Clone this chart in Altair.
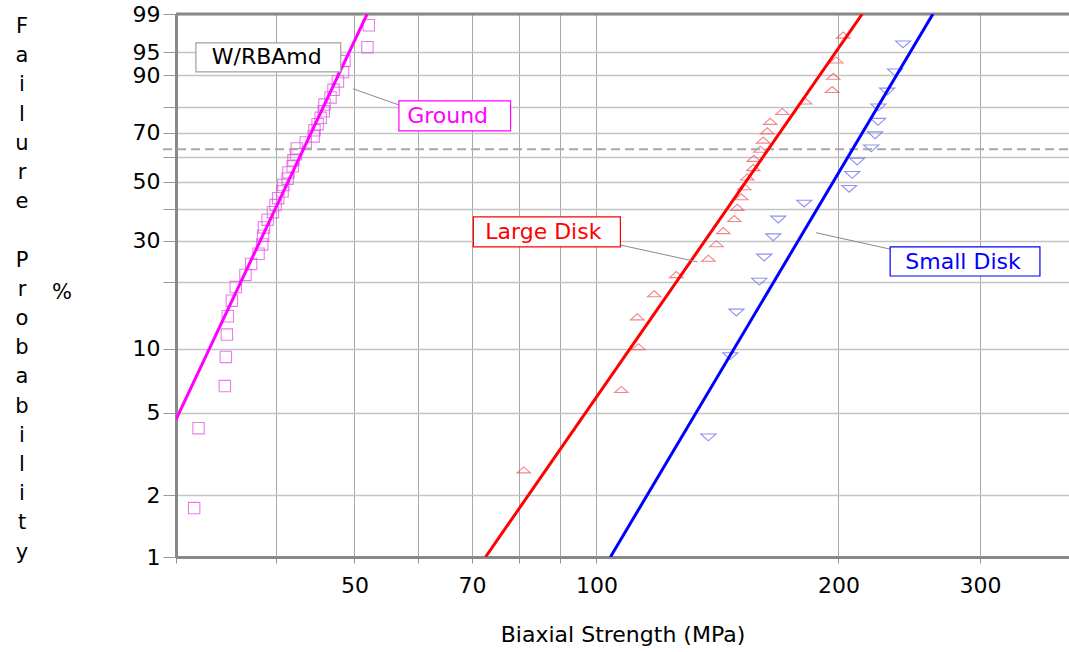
import math
import altair as alt
import pandas as pd

# ---- measured strengths (MPa) and median-rank failure probabilities (%) ----
ground_mpa = [31.6, 32.0, 34.5, 34.6, 34.7, 34.8, 35.2, 35.6, 36.6, 37.2,
              38.0, 38.4, 38.5, 38.6, 39.0, 39.6, 39.9, 40.2, 40.7, 40.8,
              41.3, 41.4, 41.9, 42.0, 42.3, 42.4, 43.5, 44.5, 44.6, 45.0,
              45.4, 45.8, 45.9, 46.7, 47.1, 47.7, 48.4, 48.6, 51.9, 52.1]
ground_pct = [1.73, 4.21, 6.68, 9.16, 11.63, 14.11, 16.58, 19.06, 21.53, 24.01,
              26.49, 28.96, 31.44, 33.91, 36.39, 38.86, 41.34, 43.81, 46.29, 48.76,
              51.24, 53.71, 56.19, 58.66, 61.14, 63.61, 66.09, 68.56, 71.04, 73.51,
              75.99, 78.47, 80.94, 83.42, 85.89, 88.37, 90.84, 93.32, 95.79, 98.27]

large_mpa = [81.2, 107.4, 112.8, 112.4, 118.0, 125.7, 137.8, 141.0, 143.8, 148.4,
             149.7, 151.4, 152.7, 154.0, 156.7, 156.9, 159.9, 161.2, 163.1, 164.5,
             170.3, 181.8, 196.4, 197.0, 198.7, 202.7]
large_pct = [2.65, 6.44, 10.23, 14.02, 17.80, 21.59, 25.38, 29.17, 32.95, 36.74,
             40.53, 44.32, 48.11, 51.89, 55.68, 59.47, 63.26, 67.05, 70.83, 74.62,
             78.41, 82.20, 85.98, 89.77, 93.56, 97.35]

small_mpa = [137.8, 146.7, 149.3, 159.4, 161.7, 165.9, 168.3, 181.3, 206.2, 208.0,
             211.0, 219.6, 222.1, 224.0, 224.2, 229.9, 235.2, 240.6]
small_pct = [3.80, 9.24, 14.67, 20.11, 25.54, 30.98, 36.41, 41.85, 47.28, 52.72,
             58.15, 63.59, 69.02, 74.46, 79.89, 85.33, 90.76, 96.20]

# Weibull fits: modulus m and characteristic strength (MPa)
series_names = ["Ground", "Large Disk", "Small Disk"]
weibull_m = [8.36, 5.68, 6.635]
weibull_eta = [43.2, 163.6, 208.2]

line_colors = ["#ff00ff", "#ff0000", "#0000ff"]
marker_colors = ["#e048e0", "#e8545c", "#6464e6"]
marker_shapes = ["square", "M-1,0.45L0,-0.45L1,0.45Z", "M-1,-0.45L0,0.45L1,-0.45Z"]
marker_sizes = [130, 230, 230]

# axis settings
x_domain = [30, 387]
x_grid = [30, 40, 50, 60, 70, 80, 90, 100, 200, 300]
x_labels = [50, 70, 100, 200, 300]
y_grid_pct = [1, 2, 5, 10, 20, 30, 40, 50, 60, 70, 80, 90, 95, 99]
y_label_pct = [1, 2, 5, 10, 30, 50, 70, 90, 95, 99]
char_life_pct = 63.21

# vertical y-axis caption, one letter per line, two words
y_caption_words = ["Failure", "Probability"]

# annotation boxes (strength range, probability range) and leader lines
notes = [
    dict(text="W/RBAmd", color="#000000", border="#a0a0a0",
         x_lo=31.76, x_hi=48.09, p_lo=90.9, p_hi=96.4, x_t=38.9, p_t=94.1),
    dict(text="Ground", color="#ff00ff", border="#ff00ff",
         x_lo=56.8, x_hi=78.2, p_lo=70.8, p_hi=82.2, x_t=65.3, p_t=76.7),
    dict(text="Large Disk", color="#ff0000", border="#ff0000",
         x_lo=70.3, x_hi=107.1, p_lo=28.3, p_hi=37.3, x_t=85.9, p_t=32.5),
    dict(text="Small Disk", color="#0000ff", border="#0000ff",
         x_lo=231.9, x_hi=356.1, p_lo=21.3, p_hi=28.3, x_t=285.7, p_t=24.5),
]
leaders = [
    dict(id="Ground", x=49.8, p=86.2), dict(id="Ground", x=56.8, p=80.8),
    dict(id="Large Disk", x=107.1, p=28.8), dict(id="Large Disk", x=133.5, p=24.5),
    dict(id="Small Disk", x=187.6, p=32.3), dict(id="Small Disk", x=231.9, p=27.7),
]


def wb(p):
    """Weibull probability transform ln(-ln(1-F))."""
    return math.log(-math.log(1 - p / 100.0))


W_EXPR = "log(-log(1 - datum.{f} / 100))"

rows = []
for name, col, xs, ps in zip(series_names, marker_colors,
                             [ground_mpa, large_mpa, small_mpa],
                             [ground_pct, large_pct, small_pct]):
    for a, b in zip(xs, ps):
        rows.append({"series": name, "mc": col, "mpa": a, "pct": b})
pts = pd.DataFrame(rows)

# fitted lines: straight on Weibull paper, drawn between the 1 % and 99 % levels
fit_rows = []
for name, col, m, eta in zip(series_names, line_colors, weibull_m, weibull_eta):
    lo = max(x_domain[0], eta * (-math.log(0.99)) ** (1 / m))
    hi = min(x_domain[1], eta * (-math.log(0.01)) ** (1 / m))
    for xv in (lo, hi):
        fit_rows.append({"series": name, "lc": col, "mpa": xv,
                         "pct": 100 * (1 - math.exp(-(xv / eta) ** m))})
fit = pd.DataFrame(fit_rows)

notes_df = pd.DataFrame(notes)
leaders_df = pd.DataFrame(leaders)

W = 893
H = 543
FONT = "DejaVu Sans"
LINE_H = 29.2

y_dom = [wb(1), wb(99)]
x_scale = alt.Scale(type="log", domain=x_domain, nice=False)
y_scale = alt.Scale(domain=y_dom, nice=False, zero=False)

x_axis = alt.Axis(
    values=x_grid,
    labelExpr="indexof(" + str(x_labels) + ", datum.value) >= 0 ? datum.value + '' : ''",
    grid=True, gridColor="#a8a8a8", gridWidth=1,
    tickColor="#909090", tickSize=6, tickWidth=1,
    domainColor="#888888", domainWidth=3,
    labelFont=FONT, labelFontSize=22, labelColor="#000000", labelPadding=12,
    labelFlush=False, labelOverlap=False,
    title="Biaxial Strength (MPa)", titleFont=FONT, titleFontSize=22,
    titleFontWeight="normal", titleColor="#000000", titlePadding=28,
)

y_axis = alt.Axis(
    values=[wb(p) for p in y_grid_pct],
    labelExpr=("indexof(" + str(y_label_pct) + ", round(100 * (1 - exp(-exp(datum.value))))) >= 0"
               " ? round(100 * (1 - exp(-exp(datum.value)))) + '' : ''"),
    grid=True, gridColor="#c4c4c4", gridWidth=1.5,
    tickColor="#999999", tickSize=13, tickWidth=1,
    domainColor="#888888", domainWidth=3,
    labelFont=FONT, labelFontSize=22, labelColor="#000000", labelPadding=3,
    labelOverlap=False, labelFlush=False,
    title="",
)

# base layer carries the axes
points = alt.Chart(pts).transform_calculate(
    w=W_EXPR.format(f="pct")
).mark_point(filled=False, strokeWidth=1.1, clip=True).encode(
    x=alt.X("mpa:Q", scale=x_scale, axis=x_axis),
    y=alt.Y("w:Q", scale=y_scale, axis=y_axis),
    color=alt.Color("mc:N", scale=None),
    shape=alt.Shape("series:N", scale=alt.Scale(domain=series_names, range=marker_shapes), legend=None),
    size=alt.Size("series:N", scale=alt.Scale(domain=series_names, range=marker_sizes), legend=None),
)

lines = alt.Chart(fit).transform_calculate(
    w=W_EXPR.format(f="pct")
).mark_line(strokeWidth=3, clip=True).encode(
    x=alt.X("mpa:Q", scale=x_scale),
    y=alt.Y("w:Q", scale=y_scale),
    color=alt.Color("lc:N", scale=None),
    detail="series:N",
)

char_line = alt.Chart(pd.DataFrame({"pct": [char_life_pct]})).transform_calculate(
    w=W_EXPR.format(f="pct")
).mark_rule(color="#a8a8a8", strokeWidth=2, strokeDash=[9, 5]).encode(
    y=alt.Y("w:Q", scale=y_scale),
    x=alt.value(-13), x2=alt.value(W),
)

top_border = alt.Chart(pd.DataFrame({"k": [0]})).mark_rule(
    color="#888888", strokeWidth=3
).encode(x=alt.value(0), x2=alt.value(W), y=alt.value(0))

leader_lines = alt.Chart(leaders_df).transform_calculate(
    w=W_EXPR.format(f="p")
).mark_line(color="#8a8a8a", strokeWidth=1).encode(
    x=alt.X("x:Q", scale=x_scale),
    y=alt.Y("w:Q", scale=y_scale),
    detail="id:N",
)

boxes = alt.Chart(notes_df).transform_calculate(
    w_lo=W_EXPR.format(f="p_lo"), w_hi=W_EXPR.format(f="p_hi")
).mark_rect(fill="#ffffff", strokeWidth=1.2).encode(
    x=alt.X("x_lo:Q", scale=x_scale), x2="x_hi:Q",
    y=alt.Y("w_lo:Q", scale=y_scale), y2="w_hi:Q",
    stroke=alt.Stroke("border:N", scale=None),
)

labels = alt.Chart(notes_df).transform_calculate(
    w_t=W_EXPR.format(f="p_t")
).mark_text(font=FONT, fontSize=22, align="center", baseline="middle").encode(
    x=alt.X("x_t:Q", scale=x_scale),
    y=alt.Y("w_t:Q", scale=y_scale),
    text="text:N",
    color=alt.Color("color:N", scale=None),
)

# stacked-letter caption of the y axis
word1 = alt.Chart(pd.DataFrame({"t": ["\n".join(y_caption_words[0])]})).mark_text(
    font=FONT, fontSize=21, color="#000000", align="center", baseline="middle",
    lineBreak="\n", lineHeight=LINE_H,
).encode(x=alt.value(-154), y=alt.value(13), text="t:N")
word2 = alt.Chart(pd.DataFrame({"t": ["\n".join(y_caption_words[1])]})).mark_text(
    font=FONT, fontSize=21, color="#000000", align="center", baseline="middle",
    lineBreak="\n", lineHeight=LINE_H,
).encode(x=alt.value(-154), y=alt.value(13 + 8 * LINE_H), text="t:N")

percent = alt.Chart(pd.DataFrame({"t": ["%"]})).mark_text(
    font=FONT, fontSize=21, color="#000000", align="center", baseline="middle"
).encode(x=alt.value(-114), y=alt.value(279), text="t:N")

chart = alt.layer(
    points, char_line, top_border, lines, leader_lines, boxes, labels,
    word1, word2, percent
).properties(
    width=W, height=H,
    autosize=alt.AutoSizeParams(type="none"),
    padding={"left": 176, "top": 14, "right": 0, "bottom": 95},
    background="#ffffff",
).configure_view(stroke=None)

chart.save("out.html", embed_options={"renderer": "svg", "actions": False})
